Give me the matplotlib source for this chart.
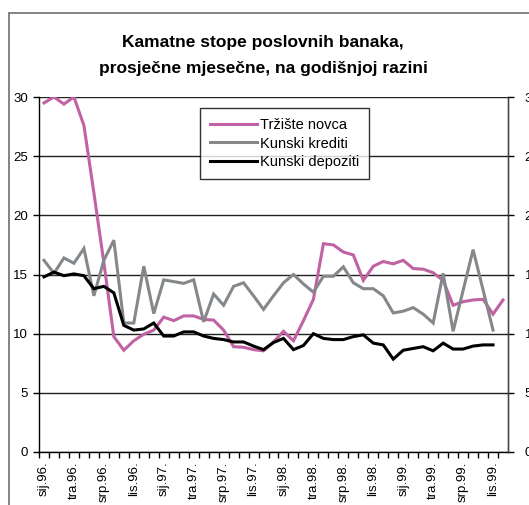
import matplotlib
matplotlib.use("Agg")
import matplotlib.pyplot as plt
from matplotlib.patches import Rectangle
import numpy as np

plt.rcParams['font.family'] = ['Liberation Sans', 'DejaVu Sans']

# --- data -------------------------------------------------------------
tick_labels = ["sij.96.", "tra.96.", "srp.96.", "lis.96.",
               "sij.97.", "tra.97.", "srp.97.", "lis.97.",
               "sij.98.", "tra.98.", "srp.98.", "lis.98.",
               "sij.99.", "tra.99.", "srp.99.", "lis.99."]
n_months = 47  # sij.96. .. stu.99.

trziste_novca = [29.5, 30.0, 29.4, 30.0, 27.6, 21.9, 16.0, 9.75, 8.6, 9.4,
                 9.95, 10.3, 11.4, 11.1, 11.5, 11.5, 11.2, 11.15, 10.3, 8.9,
                 8.85, 8.65, 8.55, 9.3, 10.2, 9.4, 11.1, 12.9, 17.6, 17.5,
                 16.9, 16.65, 14.5, 15.7, 16.1, 15.9, 16.2, 15.5, 15.45, 15.15,
                 14.5, 12.4, 12.7, 12.85, 12.9, 11.65, 12.85]
kunski_krediti = [16.2, 15.1, 16.4, 15.95, 17.2, 13.2, 16.2, 17.9, 10.9, 10.9,
                  15.7, 11.7, 14.55, 14.4, 14.25, 14.55, 11.0, 13.35, 12.4, 14.0,
                  14.3, 13.2, 12.05, 13.2, 14.3, 15.0, 14.2, 13.5, 14.85, 14.85,
                  15.65, 14.3, 13.8, 13.8, 13.2, 11.75, 11.9, 12.2, 11.65, 10.9,
                  15.1, 10.2, 13.65, 17.1, 13.7, 10.3]
kunski_depoziti = [14.8, 15.2, 14.9, 15.05, 14.9, 13.8, 14.0, 13.45, 10.7, 10.3,
                   10.4, 10.9, 9.8, 9.8, 10.15, 10.15, 9.8, 9.6, 9.5, 9.3,
                   9.3, 8.95, 8.65, 9.25, 9.6, 8.65, 9.0, 10.0, 9.6, 9.5,
                   9.5, 9.75, 9.9, 9.2, 9.05, 7.85, 8.6, 8.75, 8.9, 8.55,
                   9.2, 8.7, 8.7, 8.95, 9.05, 9.05]

series_names = ["Tržište novca", "Kunski krediti", "Kunski depoziti"]
colors = ["#c062a3", "#85888b", "#000000"]

# --- figure -----------------------------------------------------------
W, H = 529, 505
fig = plt.figure(figsize=(W / 100, H / 100), dpi=100)
fig.patch.set_facecolor("white")

# outer frame of the chart object
fig.add_artist(Rectangle((9 / W, -0.1), 1.2, (H - 13) / H + 0.1,
                         transform=fig.transFigure, fill=False,
                         ec="#6e6e6e", lw=1.2))

L, R, T, B = 39, 508, 97, 452
ax = fig.add_axes([L / W, 1 - B / H, (R - L) / W, (B - T) / H])

for vals, name, c in zip([trziste_novca, kunski_krediti, kunski_depoziti],
                         series_names, colors):
    ax.plot(np.arange(len(vals)), vals, color=c, lw=2.2, label=name,
            solid_joinstyle="miter")

ax.set_xlim(-0.5, n_months - 0.5)
ax.set_ylim(0, 30)
ax.set_yticks([0, 5, 10, 15, 20, 25, 30])
ax.yaxis.grid(True, color="#222222", lw=1.0)
ax.set_axisbelow(True)

# x ticks at category boundaries, labels every 3 months at centres
ax.set_xticks(np.arange(n_months) - 0.5)
ax.set_xticklabels([])
ax.tick_params(axis="x", which="major", length=4, width=1, color="black",
               direction="out")
ax.set_xticks(np.arange(0, n_months, 3), minor=True)
ax.set_xticklabels(tick_labels, minor=True, rotation=90, fontsize=9.5)
ax.tick_params(axis="x", which="minor", length=0, pad=7)
ax.tick_params(axis="y", length=4, width=1, labelsize=9.5, pad=4)

for s in ["left", "bottom", "right"]:
    ax.spines[s].set_color("black")
    ax.spines[s].set_linewidth(1.0)
ax.spines["top"].set_visible(False)

ax2 = ax.twinx()
ax2.set_ylim(0, 30)
ax2.set_yticks([0, 5, 10, 15, 20, 25, 30])
ax2.tick_params(axis="y", length=4, width=1, labelsize=9.5, pad=8)
for s in ["left", "bottom", "top"]:
    ax2.spines[s].set_visible(False)
ax2.spines["right"].set_color("#444444")

leg = ax.legend(loc="upper left", bbox_to_anchor=((200 - L) / (R - L), (B - 108) / (B - T)),
                fontsize=10.5, frameon=True, fancybox=False, edgecolor="black",
                handlelength=3.2, handletextpad=0.2, labelspacing=0.3,
                borderpad=0.7, borderaxespad=0)
leg.get_frame().set_linewidth(1.0)

fig.text(263 / W, 1 - 42 / H, "Kamatne stope poslovnih banaka,", ha="center",
         va="center", fontsize=12.5, fontweight="bold")
fig.text(263 / W, 1 - 68 / H, "prosječne mjesečne, na godišnjoj razini", ha="center",
         va="center", fontsize=12.5, fontweight="bold")

fig.savefig("out.png", dpi=100)
